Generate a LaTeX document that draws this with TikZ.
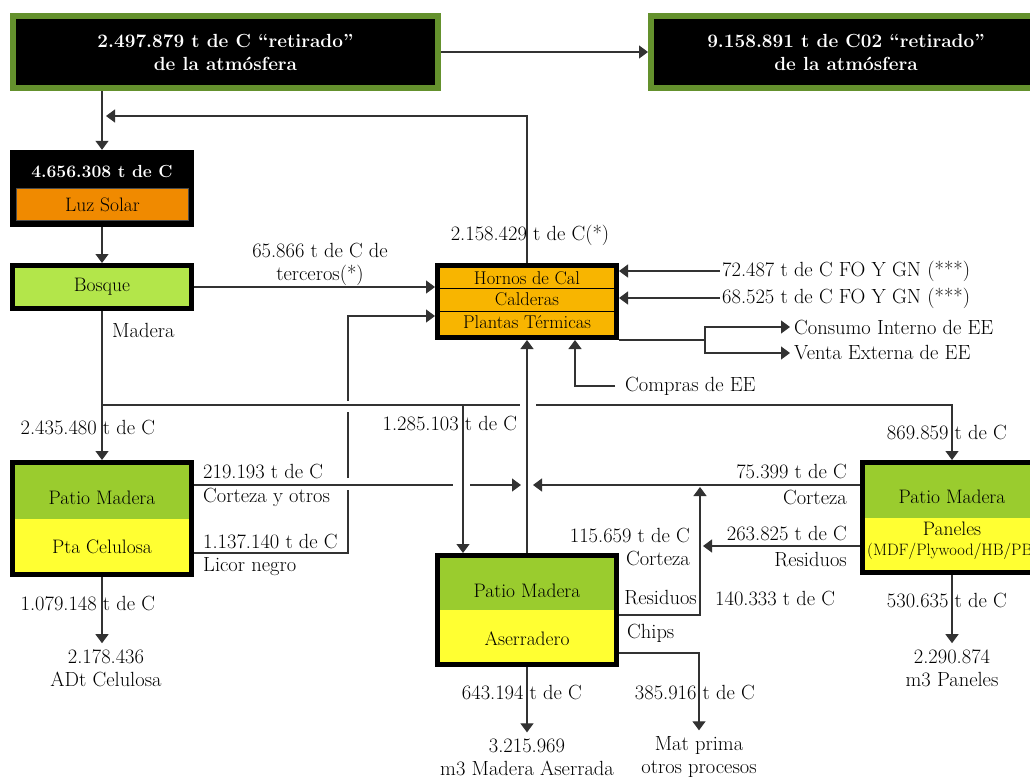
\documentclass[tikz,border=0pt]{standalone}
\usepackage{tikz}
\usetikzlibrary{arrows.meta,calc}
\definecolor{leafcol}{RGB}{100,145,45}
\definecolor{bosquecol}{RGB}{179,230,74}
\definecolor{patiocol}{RGB}{154,204,46}
\definecolor{millcol}{RGB}{255,255,50}
\definecolor{suncol}{RGB}{240,138,0}
\definecolor{kilncol}{RGB}{248,181,0}
\definecolor{flowcol}{RGB}{50,50,50}
\newcommand{\lblfont}{\fontsize{20.5}{23}\selectfont}
\newcommand{\boxfont}{\fontsize{19.5}{23}\selectfont}

\tikzset{
  flow/.style={draw=flowcol,line width=1.2pt},
  arr/.style={flow,-{Triangle[width=13pt,length=9pt]}},
  lbl/.style={font=\lblfont,inner sep=0pt,align=center},
  outnode/.style={lbl,inner ysep=6pt},
  atmbox/.style={draw=leafcol,line width=6pt,fill=black,text=white,align=center,inner sep=0pt,minimum height=72pt,font=\fontsize{19}{23}\selectfont\bfseries},
  plant/.style={draw=black,line width=5pt,inner sep=0pt,font=\boxfont},
  twotone/.style={plant,fill=millcol,path picture={\fill[patiocol] (path picture bounding box.north west) rectangle (path picture bounding box.east);}},
}

\begin{document}
\begin{tikzpicture}[x=1pt,y=-1pt]
\useasboundingbox (0,0) rectangle (1030,780);
% top: carbon taken from the atmosphere
\node[atmbox,minimum width=425pt] (atm) at (225.5,52) {2.497.879 t de C “retirado”\\de la atmósfera};
\node[atmbox,minimum width=390pt] (co2) at (846,52) {9.158.891 t de C02 “retirado”\\de la atmósfera};
\draw[arr] (atm.east) -- (co2.west);

% sun and forest
\node[fill=black,minimum width=184pt,minimum height=77pt,inner sep=0pt] (sol) at (102,188.5) {};
\node[lbl,text=white,font=\fontsize{17.5}{22}\selectfont\bfseries] (solc) at (102,171) {4.656.308 t de C};
\node[lbl,font=\boxfont,draw=black!70,fill=suncol,minimum width=172pt,minimum height=32pt] (luz) at (102.5,204.5) {Luz Solar};
\draw[arr] (sol.north |- atm.south) -- (sol.north);
\node[plant,fill=bosquecol,minimum width=179pt,minimum height=43pt] (bosque) at (102,287) {Bosque};
\draw[arr] (sol.south) -- (bosque.north);

% hornos / calderas
\node[plant,fill=kilncol,minimum width=179pt,minimum height=72pt] (hornos) at (527,301.5) {};
\draw[line width=1pt] (hornos.west |- 0,288) -- (hornos.east |- 0,288);
\draw[line width=1pt] (hornos.west |- 0,311) -- (hornos.east |- 0,311);
\node[lbl,font=\fontsize{18.5}{20}\selectfont] (hr1) at (527,278) {Hornos de Cal};
\node[lbl,font=\fontsize{18.5}{20}\selectfont] (hr2) at (527,299.5) {Calderas};
\node[lbl,font=\fontsize{18.5}{20}\selectfont] (hr3) at (527,322) {Plantas Térmicas};
\draw[arr] (bosque.east) -- (bosque.east -| hornos.west);
\node[lbl] (terc) at (320,264) {65.866 t de C de\\terceros(*)};
\coordinate (ret) at (106,116);
\draw[arr] (hornos.north) |- (ret);
\node[lbl] (emis) at (530,235) {2.158.429 t de C(*)};
\node[lbl,anchor=west] (fo1) at (722,271) {72.487 t de C FO Y GN (***)};
\node[lbl,anchor=west] (fo2) at (722,298) {68.525 t de C FO Y GN (***)};
\draw[arr] ([xshift=-2pt]fo1.west) -- (fo1.west -| hornos.east);
\draw[arr] ([xshift=-2pt]fo2.west) -- (fo2.west -| hornos.east);
\coordinate (ee) at (705,340);
\node[lbl,anchor=west] (cie) at (794,327) {Consumo Interno de EE};
\node[lbl,anchor=west] (vee) at (794,353) {Venta Externa de EE};
\draw[flow] (hornos.south east) -- (ee);
\draw[arr] (ee) |- ([xshift=-4pt]cie.west);
\draw[arr] (ee) |- ([xshift=-4pt]vee.west);
\node[lbl,anchor=west] (comp) at (625,386) {Compras de EE};
\draw[arr] ([xshift=-10pt]comp.west) -| ([xshift=48pt]hornos.south);

% plants
\node[twotone,minimum width=179pt,minimum height=112pt] (cel) at (102,518.5) {};
\node[lbl,font=\boxfont] (celtop) at (102,498) {Patio Madera};
\node[lbl,font=\boxfont] (celbot) at (102,547) {Pta Celulosa};
\node[twotone,minimum width=179pt,minimum height=109pt] (ase) at (527,610) {};
\node[lbl,font=\boxfont] (asetop) at (527,591) {Patio Madera};
\node[lbl,font=\boxfont] (asebot) at (527,639) {Aserradero};
\node[twotone,minimum width=179pt,minimum height=110pt] (pan) at (952,517.5) {};
\node[lbl,font=\boxfont] (pantop) at (952,497) {Patio Madera};
\node[lbl,font=\boxfont] (panbot) at (952,529) {Paneles};
\node[lbl,font=\fontsize{16.5}{20}\selectfont,anchor=west] (pantype) at (867,551) {(MDF/Plywood/HB/PB)};

% wood from the forest
\draw[arr] (bosque.south) -- (cel.north);
\node[lbl,anchor=west] (mad) at (112,330) {Madera};
\coordinate (d0) at (101,405);
\coordinate (d1) at (463,405);
\draw[flow] (d0) -- (520,405);
\draw[arr] (536,405) -| (pan.north);
\draw[arr] (d1) -- (d1 |- ase.north);
\node[lbl] (w1) at (87.9,427) {2.435.480 t de C};
\node[lbl] (w2) at (449.9,423) {1.285.103 t de C};
\node[lbl] (w3) at (946.9,432) {869.859 t de C};

% biomass back to the boilers
\coordinate (lic) at (348,553);
\draw[flow] (cel.east |- lic) -- (lic) -- (348,490);
\draw[flow] (348,478) -- (348,412);
\draw[arr] (348,401) -- (348,316) -- (hornos.west |- 0,316);
\draw[flow] (cel.east |- 0,485) -- (453,485);
\draw[arr] (470,485) -- (521,485);
\draw[arr] (pan.west |- 0,485) -- (533,485);
\draw[arr] (ase.north) -- (hornos.south);
\node[lbl,anchor=west] (b1) at (203,471) {219.193 t de C};
\node[lbl,anchor=west] (b2) at (203,497) {Corteza y otros};
\node[lbl,anchor=west] (b3) at (203,541) {1.137.140 t de C};
\node[lbl,anchor=west] (b4) at (203,567) {Licor negro};
\node[lbl,anchor=east] (b5) at (847,471) {75.399 t de C};
\node[lbl,anchor=east] (b6) at (847,497) {Corteza};
\draw[arr] (pan.west |- 0,546) -- (703,546);
\node[lbl,anchor=east] (b7) at (847,533) {263.825 t de C};
\node[lbl,anchor=east] (b8) at (847,560) {Residuos};
\draw[arr] (ase.east |- 0,615) -| (700,487);
\node[lbl,anchor=east] (b9) at (690,535) {115.659 t de C};
\node[lbl,anchor=east] (b10) at (690,558) {Corteza};
\node[lbl,anchor=east] (b11) at (697,598) {Residuos};
\node[lbl,anchor=west] (b12) at (715,598) {140.333 t de C};
\node[lbl,anchor=west] (b13) at (627,633) {Chips};

% products
\node[outnode] (celout) at (106,668) {2.178.436\\ADt Celulosa};
\draw[arr] (cel.south) -- (cel.south |- celout.north);
\node[lbl] (p1) at (87.9,603) {1.079.148 t de C};
\node[outnode] (asout) at (527,757) {3.215.969\\m3 Madera Aserrada};
\draw[arr] (ase.south) -- (asout);
\node[lbl] (p2) at (521.9,692) {643.194 t de C};
\node[outnode] (mat) at (699,757) {Mat prima\\otros procesos};
\draw[arr] (ase.east |- 0,653) -| (mat.north);
\node[lbl] (p3) at (694.9,692) {385.916 t de C};
\node[outnode] (panout) at (952,668) {2.290.874\\m3 Paneles};
\draw[arr] (pan.south) -- (pan.south |- panout.north);
\node[lbl] (p4) at (946.9,600) {530.635 t de C};
\end{tikzpicture}
\end{document}
